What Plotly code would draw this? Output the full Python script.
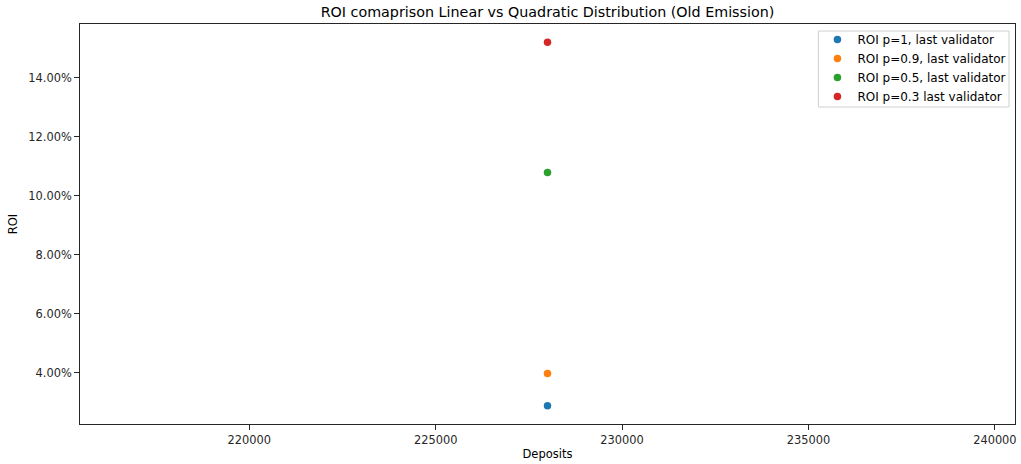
import plotly.graph_objects as go

deposits = [228000]
series_names = ["ROI p=1, last validator", "ROI p=0.9, last validator",
                "ROI p=0.5, last validator", "ROI p=0.3 last validator"]
roi_values = [[0.0289], [0.0398], [0.1079], [0.1520]]
colors = ["#1f77b4", "#ff7f0e", "#2ca02c", "#d62728"]
y_tick_vals = [0.04, 0.06, 0.08, 0.10, 0.12, 0.14]
x_tick_vals = [220000, 225000, 230000, 235000, 240000]

FONT = "DejaVu Sans"
fig = go.Figure()
for name, vals, c in zip(series_names, roi_values, colors):
    fig.add_trace(go.Scatter(x=deposits, y=vals, mode="markers", name=name,
                             marker=dict(color=c, size=7.5, line=dict(width=0))))

# plot area: x 80..1017 (937 px), y 24..424 (400 px)
def px(xp):
    return (xp - 80) / 937

def py(yp):
    return (424 - yp) / 400

fig.update_layout(
    width=1021, height=464,
    margin=dict(l=80, r=4, t=24, b=40),
    paper_bgcolor="white", plot_bgcolor="white",
    font=dict(family=FONT, size=11.4, color="#262626"),
    title=dict(text="ROI comaprison Linear vs Quadratic Distribution (Old Emission)",
               x=0.5, xref="paper", xanchor="center",
               y=1 - 12 / 464, yanchor="middle",
               font=dict(family=FONT, size=14.3, color="black")),
    showlegend=True,
    legend=dict(x=px(819), xanchor="left", y=py(25), yanchor="top",
                bgcolor="rgba(0,0,0,0)", borderwidth=0,
                font=dict(family=FONT, size=12, color="black"),
                itemsizing="trace", tracegroupgap=0),
    shapes=[dict(type="rect", xref="paper", yref="paper",
                 x0=px(820), x1=px(1011), y0=py(107), y1=py(31),
                 line=dict(color="#d0d0d0", width=1),
                 fillcolor="rgba(255,255,255,0.8)", layer="above")],
)
fig.update_xaxes(range=[215460, 240540], tickvals=x_tick_vals,
                 ticktext=[str(v) for v in x_tick_vals],
                 showgrid=False, zeroline=False, showline=True, mirror=True,
                 linecolor="#262626", linewidth=1, ticks="outside", ticklen=5,
                 tickcolor="#262626",
                 title=dict(text="Deposits", standoff=4,
                            font=dict(family=FONT, size=11.5, color="black")))
fig.update_yaxes(range=[0.0227, 0.1582], tickvals=y_tick_vals, tickformat=".2%",
                 showgrid=False, zeroline=False, showline=True, mirror=True,
                 linecolor="#262626", linewidth=1, ticks="outside", ticklen=5,
                 tickcolor="#262626",
                 title=dict(text="ROI", standoff=8,
                            font=dict(family=FONT, size=11.5, color="black")))

fig.write_html("out.html")
